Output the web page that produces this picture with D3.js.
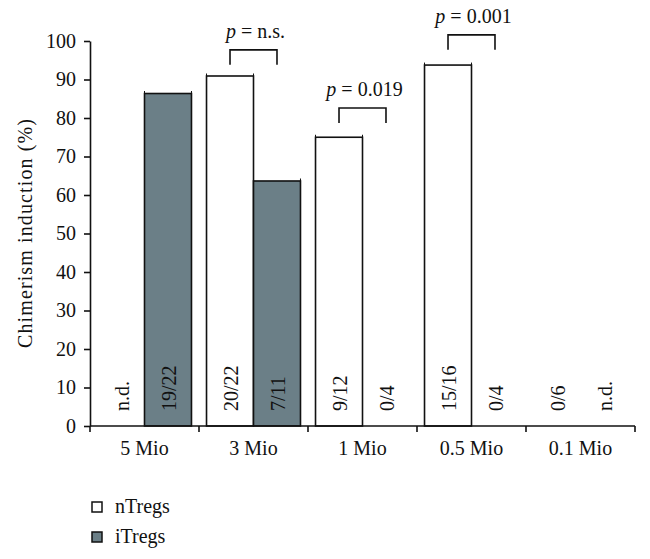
<!DOCTYPE html>
<html>
<head>
<meta charset="utf-8">
<script src="https://cdn.jsdelivr.net/npm/d3@7"></script>
<style>
  html, body { margin: 0; padding: 0; background: #fff; }
  svg { display: block; }
  svg text { font-family: "Liberation Serif", "Times New Roman", serif !important; }
</style>
</head>
<body>
<svg id="chart" width="650" height="559"></svg>
<script>
// ---- data ----
const groups = ["5 Mio", "3 Mio", "1 Mio", "0.5 Mio", "0.1 Mio"];
const series = ["nTregs", "iTregs"];
// percentages (null = not determined)
const nTregsValues = [null, 90.91, 75.0, 93.75, 0];
const iTregsValues = [86.36, 63.64, 0, 0, null];
const nTregsLabels = ["n.d.", "20/22", "9/12", "15/16", "0/6"];
const iTregsLabels = ["19/22", "7/11", "0/4", "0/4", "n.d."];
const yTicks = [0, 10, 20, 30, 40, 50, 60, 70, 80, 90, 100];
const pGroups = ["3 Mio", "1 Mio", "0.5 Mio"];
const pTexts = ["n.s.", "0.019", "0.001"];
const pLevels = [97.7, 82.6, 101.6];
const yTitle = "Chimerism induction (%)";
const seriesColors = { nTregs: "#ffffff", iTregs: "#6b7f87" };

// ---- layout ----
const svg = d3.select("#chart");
const plotLeft = 90, plotRight = 635, plotTop = 41, plotBottom = 426;
const fontSize = 20;

const x = d3.scaleBand().domain(groups).range([plotLeft, plotRight]).padding(0);
const xs = d3.scaleBand().domain(series).range([0, x.bandwidth()]).paddingInner(0).paddingOuter(0.16);
const y = d3.scaleLinear().domain([0, 100]).range([plotBottom, plotTop]);

const rows = [];
groups.forEach((g, i) => {
  rows.push({ group: g, s: "nTregs", v: nTregsValues[i], label: nTregsLabels[i] });
  rows.push({ group: g, s: "iTregs", v: iTregsValues[i], label: iTregsLabels[i] });
});

// bars
const barRows = rows.filter(d => d.v !== null && d.v > 0);
svg.append("g").selectAll("rect").data(barRows).join("rect")
  .attr("x", d => x(d.group) + xs(d.s))
  .attr("y", d => y(d.v))
  .attr("width", xs.bandwidth())
  .attr("height", d => y(0) - y(d.v))
  .attr("fill", d => seriesColors[d.s])
  .attr("stroke", "#111")
  .attr("stroke-width", 1.6);

// small caps at bar top corners
const caps = svg.append("g").attr("stroke", "#111").attr("stroke-width", 1);
barRows.forEach(d => {
  [x(d.group) + xs(d.s), x(d.group) + xs(d.s) + xs.bandwidth()].forEach(cx => {
    caps.append("line").attr("x1", cx).attr("x2", cx)
      .attr("y1", y(d.v) - 2.5).attr("y2", y(d.v) + 2.5);
  });
});

// labels inside bars (rotated)
svg.append("g").selectAll("text").data(rows).join("text")
  .attr("transform", d => {
    const cx = x(d.group) + xs(d.s) + xs.bandwidth() / 2 + 8;
    const cy = y(0) - 15;
    return `translate(${cx},${cy}) rotate(-90)`;
  })
  .attr("text-anchor", "start")
  .attr("font-size", fontSize)
  .attr("fill", "#111")
  .text(d => d.label);

// y axis
const yAxis = d3.axisLeft(y).tickValues(yTicks).tickSize(6).tickSizeOuter(0).tickPadding(8);
const gy = svg.append("g").attr("transform", `translate(${plotLeft},0)`).call(yAxis);
gy.attr("font-family", null);
gy.selectAll("text").attr("font-size", fontSize).attr("fill", "#111");
gy.selectAll("line, path").attr("stroke", "#111").attr("stroke-width", 1.6);

// x axis line + boundary ticks
const gx = svg.append("g");
gx.append("line").attr("x1", plotLeft).attr("x2", plotRight).attr("y1", y(0)).attr("y2", y(0))
  .attr("stroke", "#111").attr("stroke-width", 1.6);
const bounds = groups.map(g => x(g)).concat([x.range()[1]]);
gx.selectAll("line.tick").data(bounds).join("line").attr("class", "tick")
  .attr("x1", d => d).attr("x2", d => d).attr("y1", y(0)).attr("y2", y(0) + 6)
  .attr("stroke", "#111").attr("stroke-width", 1.6);
gx.selectAll("text").data(groups).join("text")
  .attr("x", d => x(d) + x.bandwidth() / 2)
  .attr("y", y(0) + 29)
  .attr("text-anchor", "middle")
  .attr("font-size", fontSize)
  .attr("fill", "#111")
  .text(d => d);

// y title
svg.append("text")
  .attr("transform", `translate(32,${(plotTop + plotBottom) / 2}) rotate(-90)`)
  .attr("text-anchor", "middle")
  .attr("font-size", fontSize)
  .attr("textLength", 229)
  .attr("lengthAdjust", "spacing")
  .attr("fill", "#111")
  .text(yTitle);

// p-value brackets
const pg = svg.append("g");
pGroups.forEach((g, i) => {
  const x1 = x(g) + xs("nTregs") + xs.bandwidth() / 2;
  const x2 = x(g) + xs("iTregs") + xs.bandwidth() / 2;
  const yt = y(pLevels[i]);
  pg.append("path")
    .attr("d", `M${x1},${yt + 15}V${yt}H${x2}V${yt + 15}`)
    .attr("fill", "none").attr("stroke", "#111").attr("stroke-width", 1.6);
  const t = pg.append("text")
    .attr("x", (x1 + x2) / 2 + 2)
    .attr("y", yt - 12)
    .attr("text-anchor", "middle")
    .attr("font-size", fontSize)
    .attr("fill", "#111");
  t.append("tspan").attr("font-style", "italic").text("p");
  t.append("tspan").text(" = " + pTexts[i]);
});

// legend
const lg = svg.append("g").attr("transform", "translate(92,502)");
series.forEach((s, i) => {
  const row = lg.append("g").attr("transform", `translate(0,${i * 30})`);
  row.append("rect").attr("width", 10).attr("height", 10)
    .attr("fill", seriesColors[s]).attr("stroke", "#111").attr("stroke-width", 1.5);
  row.append("text").attr("x", 23).attr("y", 10.5)
    .attr("font-size", fontSize).attr("fill", "#111").text(s);
});
</script>
</body>
</html>
